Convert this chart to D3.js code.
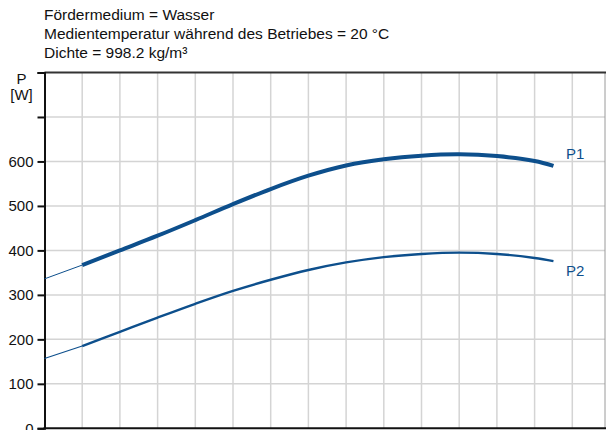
<!DOCTYPE html>
<html>
<head>
<meta charset="utf-8">
<script src="https://cdn.jsdelivr.net/npm/d3@7"></script>
<style>
  html, body { margin: 0; padding: 0; background: #fff; }
  svg { display: block; font-family: "Liberation Sans", Arial, sans-serif; }
</style>
</head>
<body>
<svg id="chart" width="606" height="430"></svg>
<script>
// ---- data ----
const headerLines = [
  "Fördermedium = Wasser",
  "Medientemperatur während des Betriebes = 20 °C",
  "Dichte = 998.2 kg/m³"
];
const flow = [0, 1, 2, 3, 4, 5, 6, 7, 8, 9, 10, 11, 12, 13, 13.5];
const p1 = [336, 367, 400, 433, 468, 504, 538, 568, 591, 605, 613, 616, 612, 601, 590];
const p2 = [157, 185, 217, 249, 280, 309, 334, 356, 373, 385, 392, 395, 392, 383, 376];
const yTicks = [0, 100, 200, 300, 400, 500, 600, 700, 800];
const yLabels = ["0", "100", "200", "300", "400", "500", "600", "", ""];
const xGrid = [1, 2, 3, 4, 5, 6, 7, 8, 9, 10, 11, 12, 13, 14];
const seriesNames = ["P1", "P2"];

// ---- drawing ----
const svg = d3.select("#chart");
const blue = "#0d4f8c";
const x = d3.scaleLinear().domain([0, 15]).range([44.5, 44.5 + 15 * 37.7]);
const y = d3.scaleLinear().domain([0, 800]).range([428.3, 72.5]);
const xRight = 605;

// header
svg.append("g").selectAll("text").data(headerLines).join("text")
  .attr("x", 44).attr("y", (d, i) => 19.5 + i * 19)
  .attr("font-size", 15.5).attr("fill", "#111").text(d => d);

// grid
const grid = svg.append("g");
grid.selectAll("line.v").data(xGrid).join("line").attr("class", "v")
  .attr("x1", d => x(d)).attr("x2", d => x(d))
  .attr("y1", y(800)).attr("y2", y(0))
  .attr("stroke", "#d4d4d4").attr("stroke-width", 1.5);
grid.selectAll("line.h").data(yTicks.filter(d => d > 0 && d < 800)).join("line").attr("class", "h")
  .attr("x1", x(0)).attr("x2", xRight)
  .attr("y1", d => y(d)).attr("y2", d => y(d))
  .attr("stroke", "#d4d4d4").attr("stroke-width", 1.5);

// right border
svg.append("line").attr("x1", xRight).attr("x2", xRight).attr("y1", y(800)).attr("y2", y(0))
  .attr("stroke", "#9a9a9a").attr("stroke-width", 1);
// top border
svg.append("line").attr("x1", x(0)).attr("x2", 606).attr("y1", y(800)).attr("y2", y(800))
  .attr("stroke", "#333").attr("stroke-width", 2);

// y axis
const yAxis = d3.axisLeft(y).tickValues(yTicks).tickSize(7).tickPadding(4)
  .tickFormat((d, i) => yLabels[i]);
const gy = svg.append("g").attr("transform", `translate(${x(0)},0)`).call(yAxis);
gy.select(".domain").attr("stroke", "#111").attr("stroke-width", 2);
gy.selectAll(".tick line").attr("stroke", "#111").attr("stroke-width", 2);
gy.selectAll(".tick text").attr("font-size", 15).attr("fill", "#111")
  .attr("font-family", "Liberation Sans, Arial, sans-serif");

// bottom axis line
svg.append("line").attr("x1", x(0) - 1).attr("x2", 606).attr("y1", y(0)).attr("y2", y(0))
  .attr("stroke", "#111").attr("stroke-width", 2);

// y axis title
svg.append("text").attr("x", 21.5).attr("y", 84).attr("text-anchor", "middle")
  .attr("font-size", 15).attr("fill", "#111").text("P");
svg.append("text").attr("x", 21.5).attr("y", 100).attr("text-anchor", "middle")
  .attr("font-size", 15).attr("fill", "#111").text("[W]");

// curves
const line = d3.line().x(d => x(d[0])).y(d => y(d[1])).curve(d3.curveCatmullRom);
function drawSeries(vals, thinW, thickW) {
  const pts = flow.map((f, i) => [f, vals[i]]);
  svg.append("path").datum(pts.filter(p => p[0] <= 1)).attr("d", line)
    .attr("fill", "none").attr("stroke", blue).attr("stroke-width", thinW);
  svg.append("path").datum(pts.filter(p => p[0] >= 1)).attr("d", line)
    .attr("fill", "none").attr("stroke", blue).attr("stroke-width", thickW);
}
drawSeries(p1, 1, 4);
drawSeries(p2, 1.2, 2.4);

// series labels
const lastIdx = flow.length - 1;
svg.selectAll("text.lab").data([p1[lastIdx], p2[lastIdx]]).join("text").attr("class", "lab")
  .attr("x", x(flow[lastIdx]) + 12.5)
  .attr("y", (d, i) => i === 0 ? y(d) - 6.5 : y(d) + 14.5)
  .attr("font-size", 15).attr("fill", blue)
  .text((d, i) => seriesNames[i]);
</script>
</body>
</html>
